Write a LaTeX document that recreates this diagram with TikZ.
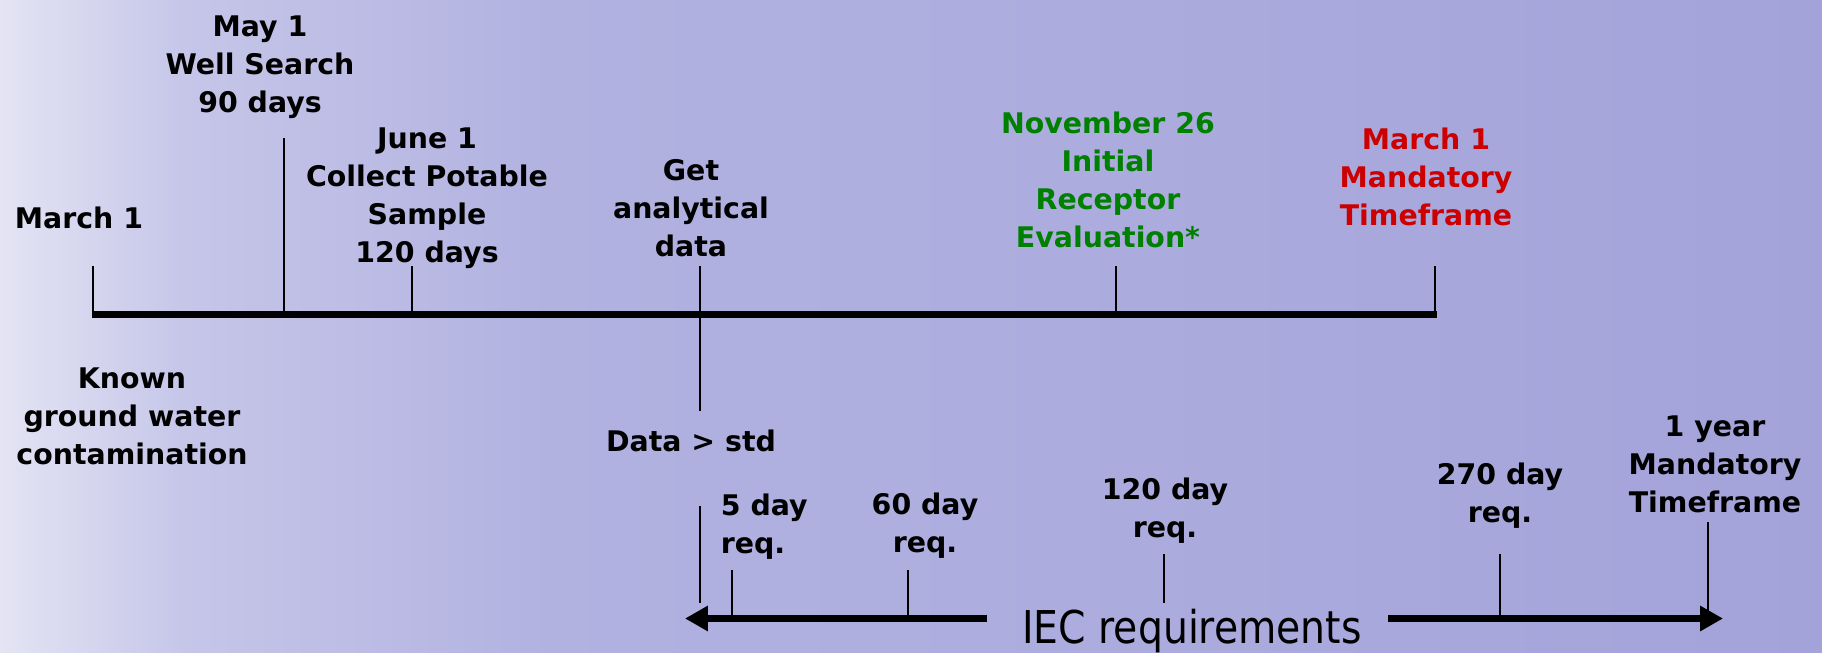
\documentclass[tikz,border=0pt]{standalone}
\usepackage{fontspec}
\setmainfont{DejaVu Sans}
\newfontfamily\iecfont{DejaVu Sans}[FakeStretch=0.87]
\usetikzlibrary{arrows.meta}
\definecolor{bgA}{RGB}{228,228,244}
\definecolor{bgB}{RGB}{198,198,233}
\definecolor{bgC}{RGB}{178,178,225}
\definecolor{bgD}{RGB}{163,163,218}
\definecolor{deadred}{RGB}{204,0,0}
\definecolor{evalgreen}{RGB}{0,128,0}
\pgfdeclarehorizontalshading{waterwash}{100bp}{color(0bp)=(bgA); color(25bp)=(bgA); color(30bp)=(bgB); color(40bp)=(bgC); color(75bp)=(bgD); color(100bp)=(bgD)}
\tikzstyle{event} = [align=center, anchor=base, inner sep=0pt, font=\bfseries\fontsize{14.2}{19}\selectfont]
\tikzstyle{tickline} = [line width=1pt]
\tikzstyle{axisline} = [line width=3.5pt]
\tikzstyle{reqline} = [line width=3.85pt, -{Triangle[length=11.4pt, width=12pt]}]

\begin{document}
\begin{tikzpicture}[x=0.5pt, y=-0.5pt]

% Background
\shade [shading=waterwash] (0,0) rectangle (1822,653);
\useasboundingbox (0,0) rectangle (1822,653);

% Main timeline
\coordinate (tlstart) at (91.5,314.5);
\coordinate (tlend) at (1436.5,314.5);
\draw [axisline] (tlstart) -- (tlend);

% Timeline ticks
\coordinate (mar1) at (92.5,266);
\coordinate (may1) at (284,138);
\coordinate (jun1) at (412,266);
\coordinate (getdata) at (699.5,266);
\coordinate (datastd) at (699.5,411);
\coordinate (nov26) at (1116,266);
\coordinate (marend) at (1435,266);
\draw [tickline] (mar1) -- (mar1 |- tlstart);
\draw [tickline] (may1) -- (may1 |- tlstart);
\draw [tickline] (jun1) -- (jun1 |- tlstart);
\draw [tickline] (getdata) -- (datastd);
\draw [tickline] (nov26) -- (nov26 |- tlstart);
\draw [tickline] (marend) -- (marend |- tlstart);

% Timeline labels (base = last line)
\node (mar1lbl) [event] at (79,228) {March 1};
\node (may1lbl) [event] at (260,112) {May 1\\Well Search\\90 days};
\node (jun1lbl) [event] at (427,262) {June 1\\Collect Potable\\Sample\\120 days};
\node (getlbl) [event] at (691,256) {Get\\analytical\\data};
\node (novlbl) [event, text=evalgreen] at (1108,247) {November 26\\Initial\\Receptor\\Evaluation*};
\node (marendlbl) [event, text=deadred] at (1426,225) {March 1\\Mandatory\\Timeframe};
\node (knownlbl) [event] at (132,464) {Known\\ground water\\contamination};
\node (stdlbl) [event] at (691,451) {Data > std};

% IEC requirements line
\node (iec) [anchor=base, inner sep=0pt, font=\iecfont\fontsize{22.6}{27}\selectfont] at (1192,643) {IEC requirements};
\coordinate (iecleft) at (987,618.5);
\coordinate (iecright) at (1388,618.5);
\coordinate (arrowL) at (685,618.5);
\coordinate (arrowR) at (1723,618.5);
\draw [reqline] (iecleft) -- (arrowL);
\draw [reqline] (iecright) -- (arrowR);

% Requirement ticks
\coordinate (req0) at (700,506);
\coordinate (req0end) at (700,603);
\coordinate (req5) at (731.5,570);
\coordinate (req60) at (907.5,570);
\coordinate (req120) at (1163.5,554);
\coordinate (req120end) at (1163.5,603);
\coordinate (req270) at (1500,554);
\coordinate (req1yr) at (1708,522);
\draw [tickline] (req0) -- (req0end);
\draw [tickline] (req5) -- (req5 |- arrowL);
\draw [tickline] (req60) -- (req60 |- arrowL);
\draw [tickline] (req120) -- (req120end);
\draw [tickline] (req270) -- (req270 |- arrowL);
\draw [tickline] (req1yr) -- (req1yr |- arrowL);

% Requirement labels
\node (req5lbl) [event, align=left, anchor=base west] at (720.5,553) {5 day\\req.};
\node (req60lbl) [event] at (925,552) {60 day\\req.};
\node (req120lbl) [event] at (1165,537) {120 day\\req.};
\node (req270lbl) [event] at (1500,522) {270 day\\req.};
\node (req1yrlbl) [event] at (1715,512) {1 year\\Mandatory\\Timeframe};

\end{tikzpicture}
\end{document}
